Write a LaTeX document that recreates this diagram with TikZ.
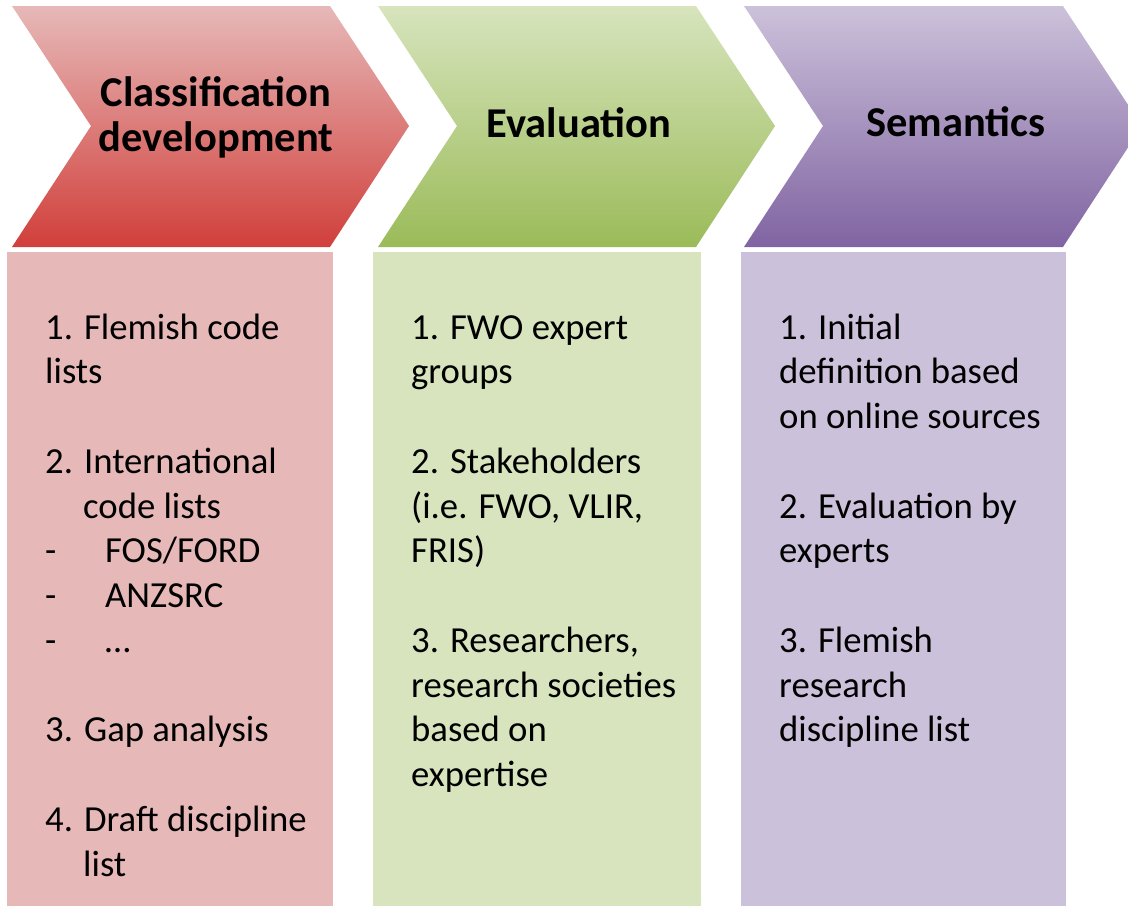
\documentclass[tikz,border=0pt]{standalone}
\usepackage{fontspec}
\setmainfont{Carlito}
\definecolor{redlight}{HTML}{E6B9B8}
\definecolor{reddark}{HTML}{D13F3B}
\definecolor{greenlight}{HTML}{D7E4BD}
\definecolor{greendark}{HTML}{9BBB59}
\definecolor{purplelight}{HTML}{CCC1DA}
\definecolor{purpledark}{HTML}{8064A2}

\begin{document}
\begin{tikzpicture}[x=1pt,y=-1pt,
        title/.style={font=\fontsize{42.5}{45}\selectfont\bfseries,align=center,anchor=base,inner sep=0pt},
        body/.style={font=\fontsize{36.7}{44.75}\selectfont,align=left,anchor=base west,inner sep=0pt}]
        \useasboundingbox (0,0) rectangle (1128,906);
        \clip (0,0) rectangle (1128,906);
        % chevrons
        \shade[top color=redlight,bottom color=reddark] (12,6) -- (330,6) -- (409,126) -- (330,247) -- (12,247) -- (91,126) -- cycle;
        \shade[top color=greenlight,bottom color=greendark] (378,6) -- (696,6) -- (775,126) -- (696,247) -- (378,247) -- (457,126) -- cycle;
        \shade[top color=purplelight,bottom color=purpledark] (744,6) -- (1063,6) -- (1142,126) -- (1063,247) -- (744,247) -- (823,126) -- cycle;
        % boxes
        \fill[redlight] (7,252) rectangle (333,906);
        \fill[greenlight] (373,252) rectangle (701,906);
        \fill[purplelight] (741,252) rectangle (1066,906);
        % titles (base = last line)
        \node[title] (T1) at (216,151) {Classification\\development};
        \node[title] (T2) at (579,137) {Evaluation};
        \node[title] (T3) at (956,136) {Semantics};
        % lists (base = last line)
        \node[body] (L1) at (45,876) {1. Flemish code\\lists\\[44.75pt]2. International\\\hspace*{38pt}code lists\\\makebox[60pt][l]{-}FOS/FORD\\\makebox[60pt][l]{-}ANZSRC\\\makebox[60pt][l]{-}…\\[44.75pt]3. Gap analysis\\[44.75pt]4. Draft discipline\\\hspace*{38pt}list};
        \node[body] (L2) at (411,786.5) {1. FWO expert\\groups\\[44.75pt]2. Stakeholders\\(i.e. FWO, VLIR,\\FRIS)\\[44.75pt]3. Researchers,\\research societies\\based on\\expertise};
        \node[body] (L3) at (779,741.75) {1. Initial\\definition based\\on online sources\\[44.75pt]2. Evaluation by\\experts\\[44.75pt]3. Flemish\\research\\discipline list};
    \end{tikzpicture}
\end{document}
